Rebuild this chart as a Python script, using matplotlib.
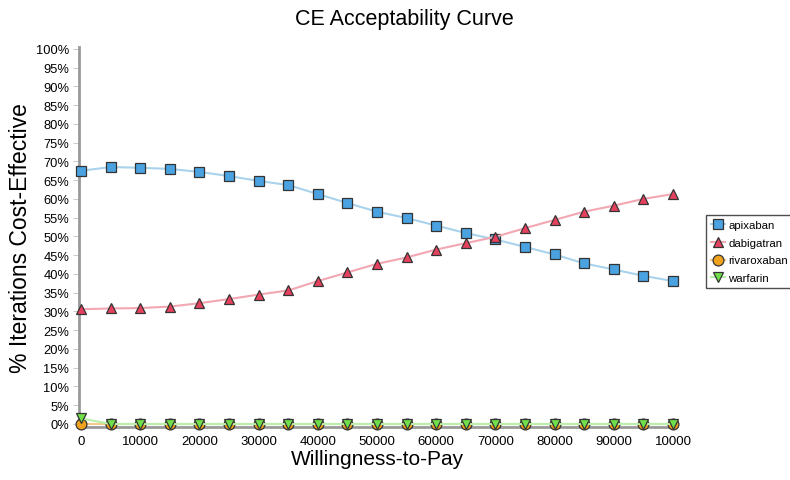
import numpy as np
import matplotlib.pyplot as plt

plt.rcParams['font.family'] = ['Liberation Sans', 'DejaVu Sans']

wtp = [0, 5000, 10000, 15000, 20000, 25000, 30000, 35000, 40000, 45000, 50000,
       55000, 60000, 65000, 70000, 75000, 80000, 85000, 90000, 95000, 100000]
apixaban = [67.5, 68.5, 68.3, 68.0, 67.2, 66.1, 64.8, 63.7, 61.3, 58.9, 56.6,
            54.9, 52.9, 50.9, 49.2, 47.2, 45.2, 42.8, 41.2, 39.5, 38.1]
dabigatran = [30.6, 30.8, 30.9, 31.3, 32.2, 33.3, 34.5, 35.6, 38.1, 40.4, 42.7,
              44.4, 46.5, 48.2, 49.9, 52.2, 54.4, 56.6, 58.2, 60.0, 61.3]
rivaroxaban = [0.0] * 21
warfarin = [1.5] + [0.0] * 20

x_ticks = [0, 10000, 20000, 30000, 40000, 50000, 60000, 70000, 80000, 90000, 100000]
x_labels = ['0', '10000', '20000', '30000', '40000', '50000', '60000', '70000',
            '80000', '90000', '10000']
y_ticks = list(range(0, 101, 5))

fig = plt.figure(figsize=(7.9, 4.81), dpi=100)
ax = fig.add_axes([79 / 790, 53 / 481, (675 - 79) / 790, (428 - 48) / 481])

series = [
    ('apixaban', apixaban, 's', '#4aa3e0', '#a9d3ec'),
    ('dabigatran', dabigatran, '^', '#e5415f', '#f2a7b2'),
    ('rivaroxaban', rivaroxaban, 'o', '#f0a21e', '#f5c98a'),
    ('warfarin', warfarin, 'v', '#6fe04a', '#b9efa8'),
]
for name, vals, mk, fc, lc in series:
    ax.plot(wtp, vals, color=lc, lw=1.5, marker=mk, markersize=7.8,
            markerfacecolor=fc, markeredgecolor='#333333', markeredgewidth=0.9,
            label=name, clip_on=False, zorder=3)

ax.set_xlim(-340, 100340)
ax.set_ylim(-0.8, 100.5)
ax.set_yticks(y_ticks)
ax.set_yticklabels([f'{v}%' for v in y_ticks])
ax.set_xticks(x_ticks)
ax.set_xticklabels(x_labels)
ax.tick_params(axis='y', length=4, color='#cccccc', labelsize=9.3, pad=3)
ax.tick_params(axis='x', length=0, labelsize=9.5, pad=6)

for s in ['top', 'right']:
    ax.spines[s].set_visible(False)
for s in ['left', 'bottom']:
    ax.spines[s].set_color('#999999')
    ax.spines[s].set_linewidth(2)

ax.set_ylabel('% Iterations Cost-Effective', fontsize=16.5, labelpad=3)
ax.set_xlabel('Willingness-to-Pay', fontsize=15, labelpad=1)
fig.text(404 / 790, 1 - 19 / 481, 'CE Acceptability Curve', fontsize=15.5,
         ha='center', va='center')

# legend sits at the right edge; keep it small enough that the names fit
leg = fig.legend(loc='upper left', bbox_to_anchor=(706 / 790, 1 - 216 / 481),
                 fontsize=8.2, frameon=True, fancybox=False, handlelength=1.3,
                 handletextpad=0.25, labelspacing=0.7, borderpad=0.4,
                 borderaxespad=0)
leg.get_frame().set_edgecolor('#222222')
leg.get_frame().set_linewidth(1)

fig.savefig('out.png', dpi=100)
